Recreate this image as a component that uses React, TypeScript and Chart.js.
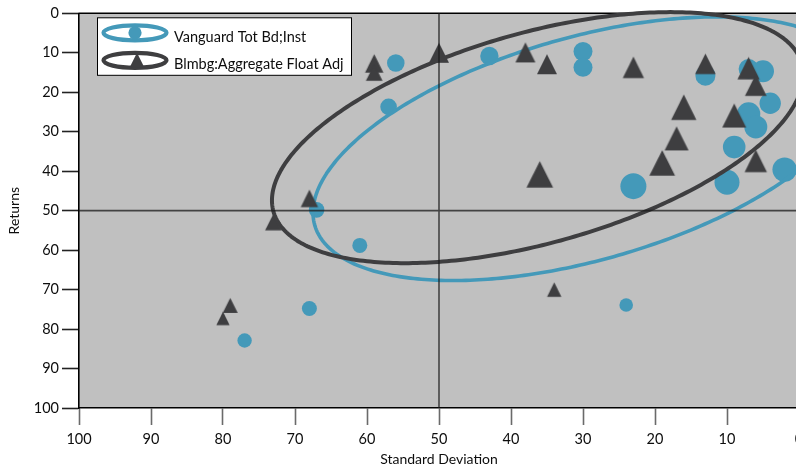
import React, { useEffect, useRef } from "react";
import { Chart, registerables } from "chart.js";

Chart.register(...registerables);

// ---- Data ----
const seriesNames = ["Vanguard Tot Bd;Inst", "Blmbg:Aggregate Float Adj"];

// Vanguard Tot Bd;Inst (circles)
const tealX = [56, 57, 67, 61, 68, 77, 24, 43, 30, 30, 13, 7, 5, 4, 7, 6, 9, 10, 23, 2];
const tealY = [12.6, 23.7, 49.8, 58.8, 74.8, 82.9, 73.9, 10.8, 9.7, 13.7, 15.8, 14.1, 14.7, 22.8, 25.5, 28.8, 33.9, 42.8, 43.8, 39.6];
const tealBubble = [8.8, 8.3, 7.8, 7.5, 7.5, 7.2, 6.8, 9.2, 9.5, 9.5, 10, 10, 11, 10.7, 11.7, 11.5, 11.3, 12.5, 13, 12.2];

// Blmbg:Aggregate Float Adj (triangles)
const darkX = [59, 59, 50, 38, 35, 23, 13, 7, 6, 16, 9, 17, 19, 6, 36, 68, 73, 34, 79, 80];
const darkY = [12.7, 15.0, 10.0, 9.9, 12.9, 13.7, 12.8, 13.9, 18.2, 23.8, 25.9, 31.7, 37.9, 37.4, 40.8, 46.9, 52.9, 70.0, 74.0, 77.3];
const darkBubble = [18.4, 16.7, 20, 20, 20, 21.3, 20.6, 22.3, 21.7, 25.3, 24, 24, 25.7, 22.4, 26.6, 17.4, 16.7, 14.4, 15, 13.3];

// Ellipses (center, spread, correlation) per series
const ellipseCenterX = [29.7, 36.3];
const ellipseCenterY = [34.3, 31.5];
const ellipseSpreadX = [37.8, 36.9];
const ellipseSpreadY = [33.4, 31.8];
const ellipseCorr = [0.485, 0.5];

// Reference (cross) lines
const crossX = [50];
const crossY = [50];

const axisMin = 0;
const axisMax = 100;
const axisStep = 10;

// ---- Styles ----
const TEAL = "#4499B9";
const DARK = "#3E3E40";
const PLOT_BG = "#C0C0C0";
const TEXT = "#0d0d0d";
const FONT = "Lato";

function makeTriangle(size: number, color: string): HTMLCanvasElement {
  const S = Math.ceil(size) + 2;
  const c = document.createElement("canvas");
  c.width = S;
  c.height = S;
  const g = c.getContext("2d")!;
  const top = (S - size) / 2;
  g.fillStyle = color;
  g.beginPath();
  g.moveTo(S / 2, top);
  g.lineTo(S / 2 + size / 2, top + size);
  g.lineTo(S / 2 - size / 2, top + size);
  g.closePath();
  g.fill();
  return c;
}

function drawEllipse(chart: any, i: number, color: string, width: number) {
  const { ctx } = chart;
  const xs = chart.scales.x;
  const ys = chart.scales.y;
  const cx = ellipseCenterX[i];
  const cy = ellipseCenterY[i];
  const sx = ellipseSpreadX[i];
  const sy = ellipseSpreadY[i];
  const r = ellipseCorr[i];
  const q = Math.sqrt(1 - r * r);
  const n = 360;
  ctx.save();
  ctx.beginPath();
  for (let k = 0; k <= n; k++) {
    const t = (2 * Math.PI * k) / n;
    const xv = cx + sx * Math.cos(t);
    const yv = cy + sy * (r * Math.cos(t) + q * Math.sin(t));
    const px = xs.getPixelForValue(xv);
    const py = ys.getPixelForValue(yv);
    if (k === 0) ctx.moveTo(px, py);
    else ctx.lineTo(px, py);
  }
  ctx.closePath();
  ctx.lineWidth = width;
  ctx.strokeStyle = color;
  ctx.lineJoin = "round";
  ctx.stroke();
  ctx.restore();
}

const decorPlugin = {
  id: "decor",
  beforeDraw(chart: any) {
    const { ctx, chartArea: a } = chart;
    ctx.save();
    ctx.fillStyle = PLOT_BG;
    ctx.fillRect(a.left, a.top, a.right - a.left, a.bottom - a.top);
    ctx.restore();
  },
  beforeDatasetsDraw(chart: any) {
    const { ctx, chartArea: a } = chart;
    ctx.save();
    ctx.strokeStyle = "#000";
    ctx.lineWidth = 1.5;
    ctx.beginPath();
    ctx.moveTo(a.left - 0.75, a.top);
    ctx.lineTo(a.right, a.top);
    ctx.stroke();
    ctx.restore();
  },
  afterDatasetDraw(chart: any, args: any) {
    const i = args.index;
    drawEllipse(chart, i, i === 0 ? TEAL : DARK, i === 0 ? 3.6 : 4);
  },
  afterDatasetsDraw(chart: any) {
    const { ctx, chartArea: a } = chart;
    const xs = chart.scales.x;
    const ys = chart.scales.y;
    ctx.save();
    ctx.strokeStyle = "rgba(25,25,25,0.75)";
    ctx.lineWidth = 1.6;
    ctx.beginPath();
    crossX.forEach((v) => {
      const px = xs.getPixelForValue(v);
      ctx.moveTo(px, a.top);
      ctx.lineTo(px, a.bottom);
    });
    crossY.forEach((v) => {
      const py = ys.getPixelForValue(v);
      ctx.moveTo(a.left, py);
      ctx.lineTo(a.right, py);
    });
    ctx.stroke();
    ctx.restore();
  },
  afterDraw(chart: any) {
    const { ctx, chartArea: a } = chart;
    const bx = a.left + 18.5;
    const by = a.top + 4.5;
    const bw = 254;
    const bh = 57.5;
    ctx.save();
    ctx.fillStyle = "#fff";
    ctx.fillRect(bx, by, bw, bh);
    ctx.strokeStyle = "#000";
    ctx.lineWidth = 1;
    ctx.strokeRect(bx, by, bw, bh);

    const symX = bx + 37.5;
    const rows = [by + 15, by + 42.5];
    const colors = [TEAL, DARK];
    rows.forEach((cy, i) => {
      ctx.beginPath();
      ctx.ellipse(symX, cy, 31.5, 7.5, 0, 0, Math.PI * 2);
      ctx.lineWidth = 4.2;
      ctx.strokeStyle = colors[i];
      ctx.stroke();
      ctx.fillStyle = colors[i];
      if (i === 0) {
        ctx.beginPath();
        ctx.arc(symX, cy, 6.6, 0, Math.PI * 2);
        ctx.fill();
      } else {
        const s = 15;
        ctx.beginPath();
        ctx.moveTo(symX + 2, cy - s / 2);
        ctx.lineTo(symX + 2 + s / 2, cy + s / 2);
        ctx.lineTo(symX + 2 - s / 2, cy + s / 2);
        ctx.closePath();
        ctx.fill();
      }
      ctx.fillStyle = TEXT;
      ctx.font = `14.5px ${FONT}`;
      ctx.textAlign = "left";
      ctx.textBaseline = "alphabetic";
      ctx.fillText(seriesNames[i], bx + 76.5, cy + 9);
    });
    ctx.restore();
  },
};

export default function App() {
  const canvasRef = useRef<HTMLCanvasElement | null>(null);

  useEffect(() => {
    const canvas = canvasRef.current;
    if (!canvas) return;

    const tealData = tealX.map((x, i) => ({ x, y: tealY[i] }));
    const darkData = darkX.map((x, i) => ({ x, y: darkY[i] }));
    const triangles = darkBubble.map((s) => makeTriangle(s, DARK));

    const chart = new Chart(canvas, {
      type: "scatter",
      data: {
        datasets: [
          {
            label: seriesNames[0],
            data: tealData,
            order: 2,
            pointStyle: "circle",
            pointRadius: tealBubble,
            pointHoverRadius: tealBubble,
            pointBackgroundColor: TEAL,
            pointBorderWidth: 0,
            borderWidth: 0,
            clip: false,
          } as any,
          {
            label: seriesNames[1],
            data: darkData,
            order: 1,
            pointStyle: triangles,
            pointRadius: darkBubble.map((s) => s / 2),
            pointHoverRadius: darkBubble.map((s) => s / 2),
            pointBackgroundColor: DARK,
            pointBorderWidth: 0,
            borderWidth: 0,
            clip: false,
          } as any,
        ],
      },
      options: {
        responsive: false,
        animation: false,
        events: [],
        layout: { padding: { left: 0, right: 21, top: 12, bottom: 0 } },
        plugins: {
          legend: { display: false },
          tooltip: { enabled: false },
        },
        scales: {
          x: {
            type: "linear",
            position: "bottom",
            min: axisMin,
            max: axisMax,
            reverse: true,
            afterFit: (s: any) => {
              s.height = 58;
            },
            ticks: {
              stepSize: axisStep,
              autoSkip: false,
              maxRotation: 0,
              padding: 6,
              color: TEXT,
              font: { family: FONT, size: 14.5 },
            },
            grid: {
              drawOnChartArea: false,
              drawTicks: true,
              tickLength: 17,
              tickColor: "#6a6a6a",
              tickWidth: 1.6,
            },
            border: { display: true, color: "#000", width: 1.6 },
            title: {
              display: true,
              text: "Standard Deviation",
              color: TEXT,
              font: { family: FONT, size: 14, lineHeight: 1 },
              padding: { top: 0, bottom: 0 },
            },
          },
          y: {
            type: "linear",
            position: "left",
            min: axisMin,
            max: axisMax,
            reverse: true,
            afterFit: (s: any) => {
              s.width = 79;
            },
            ticks: {
              stepSize: axisStep,
              autoSkip: false,
              padding: 3,
              color: TEXT,
              font: { family: FONT, size: 14.5 },
            },
            grid: {
              drawOnChartArea: false,
              drawTicks: true,
              tickLength: 17,
              tickColor: "#222",
              tickWidth: 1.6,
            },
            border: { display: true, color: "#000", width: 1.6 },
            title: {
              display: true,
              text: "Returns",
              color: TEXT,
              font: { family: FONT, size: 14, lineHeight: 1 },
              padding: { top: 7.5, bottom: 0 },
            },
          },
        },
      },
      plugins: [decorPlugin],
    });

    return () => {
      chart.destroy();
    };
  }, []);

  return (
    <div
      style={{
        position: "fixed",
        left: 0,
        top: 0,
        width: 796,
        height: 466,
        overflow: "hidden",
        background: "#fff",
      }}
    >
      <canvas
        ref={canvasRef}
        width={820}
        height={466}
        style={{ display: "block", width: 820, height: 466 }}
      />
    </div>
  );
}
